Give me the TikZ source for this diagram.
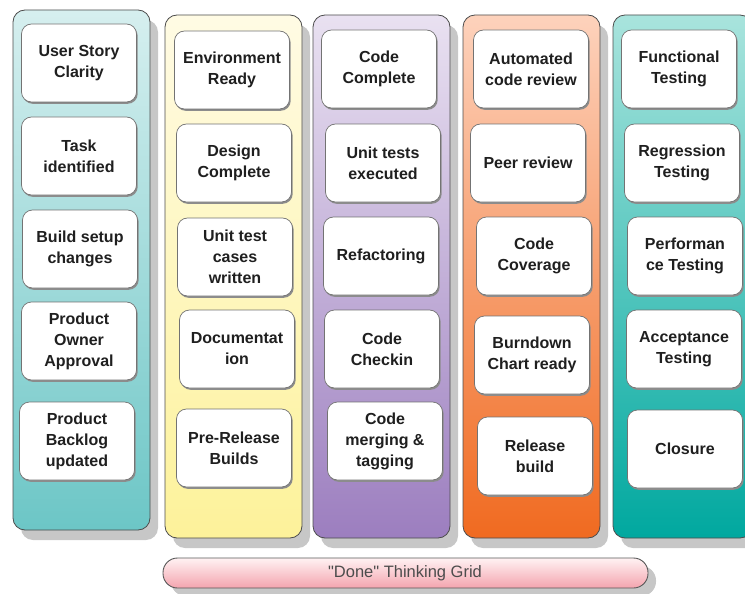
\documentclass[tikz,border=0pt]{standalone}
\usepackage{fontspec}
\setmainfont{Liberation Sans}
\begin{document}
\begin{tikzpicture}[x=1pt,y=-1pt,
  colshadow/.style={fill=black!22, rounded corners=12pt},
  lane/.style={draw=black!70, line width=0.8pt, rounded corners=12pt},
  cardshadow/.style={fill=black!45, rounded corners=10pt, minimum width=115pt, minimum height=78pt, inner sep=0pt},
  card/.style={draw=black!55, line width=0.7pt, fill=white, rounded corners=10pt,
    minimum width=115pt, minimum height=78pt, inner sep=0pt, align=center,
    text=black!88, font=\bfseries\fontsize{16}{21}\selectfont},
  barlabel/.style={text=black!70, font=\fontsize{16.5}{20}\selectfont}
]
\useasboundingbox (0,0) rectangle (745,594);

% lane colours
\definecolor{c1top}{HTML}{D6EFEF}\definecolor{c1bot}{HTML}{6CC6C6}
\definecolor{c2top}{HTML}{FFFBE4}\definecolor{c2bot}{HTML}{FDF29A}
\definecolor{c3top}{HTML}{E9E1F1}\definecolor{c3bot}{HTML}{9C7EBF}
\definecolor{c4top}{HTML}{FDD2BC}\definecolor{c4bot}{HTML}{F06A20}
\definecolor{c5top}{HTML}{A9E4DD}\definecolor{c5bot}{HTML}{00A89F}
\definecolor{bartop}{HTML}{FFF2F3}\definecolor{barbot}{HTML}{F4A4AE}

% lane shadows
\fill[colshadow] (21,20) rectangle (158,540);
\fill[colshadow] (173,25) rectangle (310,548);
\fill[colshadow] (321,25) rectangle (458,548);
\fill[colshadow] (471,25) rectangle (608,548);
\fill[colshadow] (621,25) rectangle (760,548);

% lanes
\draw[lane, top color=c1top, bottom color=c1bot] (13,10) rectangle (150,530);
\draw[lane, top color=c2top, bottom color=c2bot] (165,15) rectangle (302,538);
\draw[lane, top color=c3top, bottom color=c3bot] (313,15) rectangle (450,538);
\draw[lane, top color=c4top, bottom color=c4bot] (463,15) rectangle (600,538);
\draw[lane, top color=c5top, bottom color=c5bot] (613,15) rectangle (752,538);

% thin shadows under the cards
\foreach \cx/\cy in {79/63,79/156,80/249,79/341,77/441,
                     232/70,234/163,235/257,237/349,234/448,
                     379/69,383/163,381/256,382/349,385/441,
                     531/69,528/163,534/256,532/355,535/456,
                     679/69,682/163,685/256,684/349,685/449}
  \node[cardshadow] (sh-\cx-\cy) at (\cx+1.2,\cy+1.8) {};

% column 1
\node[card] (us)  at (79,63)  {User Story\\Clarity};
\node[card] (ti)  at (79,156) {Task\\identified};
\node[card] (bs)  at (80,249) {Build setup\\changes};
\node[card] (po)  at (79,341) {Product\\Owner\\Approval};
\node[card] (pb)  at (77,441) {Product\\Backlog\\updated};

% column 2
\node[card] (er)  at (232,70)  {Environment\\Ready};
\node[card] (dc)  at (234,163) {Design\\Complete};
\node[card] (ut)  at (235,257) {Unit test\\cases\\written};
\node[card] (doc) at (237,349) {Documentat\\ion};
\node[card] (prb) at (234,448) {Pre-Release\\Builds};

% column 3
\node[card] (cc)  at (379,69)  {Code\\Complete};
\node[card] (ute) at (383,163) {Unit tests\\executed};
\node[card] (rf)  at (381,256) {Refactoring};
\node[card] (ci)  at (382,349) {Code\\Checkin};
\node[card] (cm)  at (385,441) {Code\\merging \&\\tagging};

% column 4
\node[card] (acr) at (531,69)  {Automated\\code review};
\node[card] (pr)  at (528,163) {Peer review};
\node[card] (cov) at (534,256) {Code\\Coverage};
\node[card] (bd)  at (532,355) {Burndown\\Chart ready};
\node[card] (rb)  at (535,456) {Release\\build};

% column 5
\node[card] (ft)  at (679,69)  {Functional\\Testing};
\node[card] (rt)  at (682,163) {Regression\\Testing};
\node[card] (pt)  at (685,256) {Performan\\ce Testing};
\node[card] (at)  at (684,349) {Acceptance\\Testing};
\node[card] (cl)  at (685,449) {Closure};

% bottom banner
\fill[black!22, rounded corners=14.5pt] (171,566) rectangle (656,596);
\draw[draw=black!65, line width=0.9pt, rounded corners=14.5pt, top color=bartop, bottom color=barbot]
  (163,558) rectangle (648,588);
\node[barlabel] (grid) at (405,573) {\textquotedbl Done\textquotedbl{} Thinking Grid};
\end{tikzpicture}
\end{document}
